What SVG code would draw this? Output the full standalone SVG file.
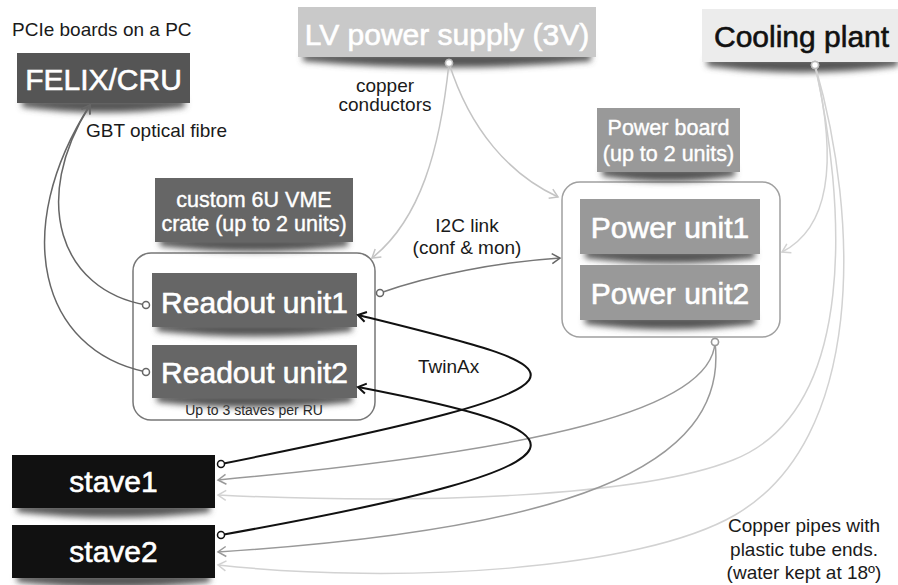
<svg xmlns="http://www.w3.org/2000/svg" width="898" height="585" viewBox="0 0 898 585">
<defs>
<style>
text{font-family:"Liberation Sans",Arial,Helvetica,sans-serif}
.ann{font-size:19px;fill:#1a1a1a}
.mid{text-anchor:middle}
.big{font-size:30px;fill:#fff;text-anchor:middle;stroke:#fff;stroke-width:0.6}
.lbl{font-size:21.5px;fill:#fff;text-anchor:middle;stroke:#fff;stroke-width:0.4}
.sh{fill:#555;filter:url(#blur)}
.con{fill:none;stroke-width:1.5}
.k{stroke:#111;stroke-width:2}
.d{stroke:#666}
.m{stroke:#999}
.l{stroke:#c4c4c4}
.ll{stroke:#d2d2d2}
.frame{fill:#fff;stroke-width:1.5}
</style>
<filter id="blur" x="-20%" y="-100%" width="140%" height="300%"><feGaussianBlur stdDeviation="3"/></filter>
<marker id="ak" markerWidth="14" markerHeight="14" refX="11" refY="7" orient="auto" markerUnits="userSpaceOnUse"><path d="M3,2 L11,7 L3,12" fill="none" stroke="#111" stroke-width="2"/></marker>
<marker id="ad" markerWidth="14" markerHeight="14" refX="11" refY="7" orient="auto" markerUnits="userSpaceOnUse"><path d="M3,2 L11,7 L3,12" fill="none" stroke="#666" stroke-width="1.5"/></marker>
<marker id="am" markerWidth="14" markerHeight="14" refX="11" refY="7" orient="auto" markerUnits="userSpaceOnUse"><path d="M3,2 L11,7 L3,12" fill="none" stroke="#999" stroke-width="1.5"/></marker>
<marker id="al" markerWidth="14" markerHeight="14" refX="11" refY="7" orient="auto" markerUnits="userSpaceOnUse"><path d="M3,2 L11,7 L3,12" fill="none" stroke="#c4c4c4" stroke-width="1.5"/></marker>
<marker id="all" markerWidth="14" markerHeight="14" refX="11" refY="7" orient="auto" markerUnits="userSpaceOnUse"><path d="M3,2 L11,7 L3,12" fill="none" stroke="#d2d2d2" stroke-width="1.5"/></marker>
<marker id="ck" markerWidth="10" markerHeight="10" refX="5" refY="5" markerUnits="userSpaceOnUse"><circle cx="5" cy="5" r="3.5" fill="#fff" stroke="#111" stroke-width="1.5"/></marker>
<marker id="cd" markerWidth="10" markerHeight="10" refX="5" refY="5" markerUnits="userSpaceOnUse"><circle cx="5" cy="5" r="3.5" fill="#fff" stroke="#666" stroke-width="1.5"/></marker>
<marker id="cm" markerWidth="10" markerHeight="10" refX="5" refY="5" markerUnits="userSpaceOnUse"><circle cx="5" cy="5" r="3.5" fill="#fff" stroke="#999" stroke-width="1.5"/></marker>
<marker id="cl" markerWidth="10" markerHeight="10" refX="5" refY="5" markerUnits="userSpaceOnUse"><circle cx="5" cy="5" r="3.5" fill="#fff" stroke="#bbb" stroke-width="1.5"/></marker>
</defs>
<rect width="898" height="585" fill="#fff"/>

<text class="ann" x="12" y="36">PCIe boards on a PC</text>
<text class="ann" x="86" y="137">GBT optical fibre</text>
<text class="ann mid" x="385" y="92">copper</text>
<text class="ann mid" x="385" y="111">conductors</text>
<text class="ann mid" x="467" y="232">I2C link</text>
<text class="ann mid" x="467" y="254">(conf &amp; mon)</text>
<text class="ann" x="418" y="373">TwinAx</text>
<text class="ann mid" x="804" y="532">Copper pipes with</text>
<text class="ann mid" x="804" y="556">plastic tube ends.</text>
<text class="ann mid" x="804" y="579">(water kept at 18º)</text>

<g id="crate">
<rect class="frame" x="133" y="253" width="242" height="167" rx="18" stroke="#777"/>
<text x="254" y="415" font-size="14" fill="#222" text-anchor="middle">Up to 3 staves per RU</text>
</g>
<g id="powerboard-frame">
<rect class="frame" x="562" y="182" width="218" height="155" rx="18" stroke="#a0a0a0"/>
</g>

<g id="felix">
<path class="sh" d="M22,99 L185,99 L185,107 Q103,118 22,107 Z"/>
<rect x="17" y="53" width="173" height="50" fill="#555"/>
<text class="big" x="103.5" y="90">FELIX/CRU</text>
</g>
<g id="lv">
<path class="sh" d="M303,53 L591,53 L591,61 Q447,74 303,61 Z"/>
<rect x="298" y="7" width="298" height="50" fill="#c9c9c9"/>
<text class="big" x="447" y="45">LV power supply (3V)</text>
</g>
<g id="cooling">
<path class="sh" d="M707,58 L898,58 L898,66 Q800,79 707,66 Z"/>
<rect x="702" y="9" width="200" height="53" fill="#ececec"/>
<text x="714" y="47" font-size="30" fill="#111" stroke="#111" stroke-width="0.6">Cooling plant</text>
</g>
<g id="crate-label">
<path class="sh" d="M160,238 L348,238 L348,246 Q254,257 160,246 Z"/>
<rect x="155" y="178" width="198" height="64" fill="#666"/>
<text class="lbl" x="254" y="207">custom 6U VME</text>
<text class="lbl" x="254" y="231">crate (up to 2 units)</text>
</g>
<g id="ru1">
<path class="sh" d="M157,323 L352,323 L352,331 Q254,342 157,331 Z"/>
<rect x="152" y="273" width="205" height="54" fill="#666"/>
<text class="big" x="254.5" y="313">Readout unit1</text>
</g>
<g id="ru2">
<path class="sh" d="M157,394 L352,394 L352,402 Q254,413 157,402 Z"/>
<rect x="152" y="345" width="205" height="53" fill="#666"/>
<text class="big" x="254.5" y="383">Readout unit2</text>
</g>
<g id="power-label">
<path class="sh" d="M602,168 L735,168 L735,176 Q668,187 602,176 Z"/>
<rect x="597" y="108" width="143" height="64" fill="#999"/>
<text class="lbl" x="668.5" y="135">Power board</text>
<text class="lbl" x="668.5" y="161">(up to 2 units)</text>
</g>
<g id="pu1">
<path class="sh" d="M585,250 L755,250 L755,258 Q670,269 585,258 Z"/>
<rect x="580" y="199" width="180" height="55" fill="#999"/>
<text class="big" x="670" y="238">Power unit1</text>
</g>
<g id="pu2">
<path class="sh" d="M585,316 L755,316 L755,324 Q670,335 585,324 Z"/>
<rect x="580" y="265" width="180" height="55" fill="#999"/>
<text class="big" x="670" y="304">Power unit2</text>
</g>
<g id="stave1">
<path class="sh" d="M17,504 L210,504 L210,512 Q113,523 17,512 Z"/>
<rect x="12" y="455" width="203" height="53" fill="#111"/>
<text class="big" x="113.5" y="492" font-size="28">stave1</text>
</g>
<g id="stave2">
<path class="sh" d="M17,574 L210,574 L210,582 Q113,593 17,582 Z"/>
<rect x="12" y="525" width="203" height="53" fill="#111"/>
<text class="big" x="113.5" y="562" font-size="28">stave2</text>
</g>

<g id="connectors">
<path class="con d" d="M146,305 C60,290 30,200 90,105" marker-start="url(#cd)" marker-end="url(#ad)"/>
<path class="con d" d="M146,372 C40,350 10,230 90,105" marker-start="url(#cd)" marker-end="url(#ad)"/>
<path class="con l" d="M449,63 C440,150 420,220 372,258" marker-start="url(#cl)" marker-end="url(#al)"/>
<path class="con l" d="M449,63 C470,130 510,175 558,197" marker-start="url(#cl)" marker-end="url(#al)"/>
<path class="con ll" d="M815,65 C835,150 835,225 782,252" marker-start="url(#cl)" marker-end="url(#all)"/>
<path class="con ll" d="M815,65 C845,200 860,410 733,460 C640,497 420,505 218,495" marker-start="url(#cl)" marker-end="url(#all)"/>
<path class="con ll" d="M815,65 C860,220 865,440 735,515 C640,570 400,585 218,565" marker-start="url(#cl)" marker-end="url(#all)"/>
<path class="con m" d="M715,342 C712,410 540,450 218,480" marker-start="url(#cm)" marker-end="url(#am)"/>
<path class="con m" d="M715,342 C730,470 560,530 218,552" marker-start="url(#cm)" marker-end="url(#am)"/>
<path class="con" stroke="#777" d="M380,293 C430,275 500,262 560,258" marker-start="url(#cd)" marker-end="url(#ad)"/>
<path class="con k" d="M221,464 C640,380 580,370 358,315" marker-start="url(#ck)" marker-end="url(#ak)"/>
<path class="con k" d="M221,535 C640,460 580,430 358,387" marker-start="url(#ck)" marker-end="url(#ak)"/>
</g>
</svg>
